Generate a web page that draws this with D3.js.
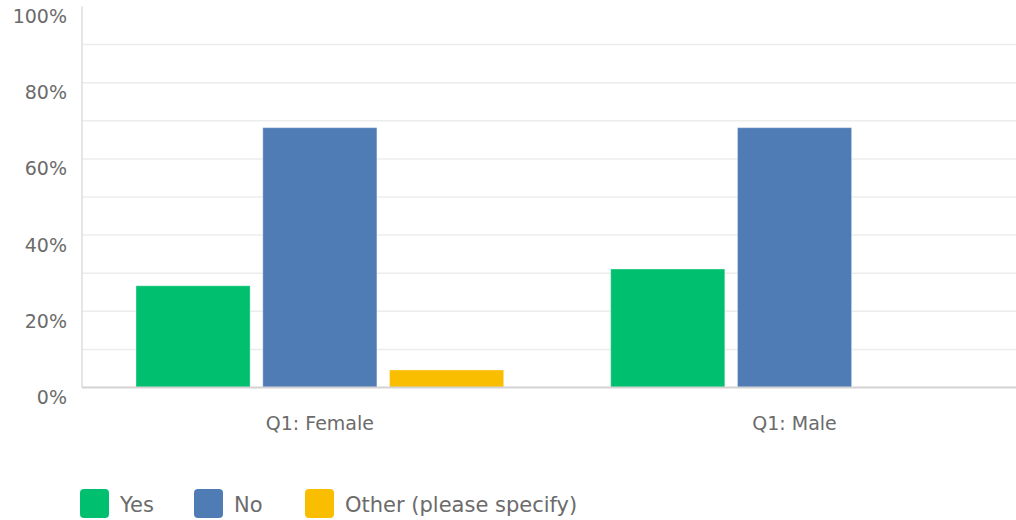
<!DOCTYPE html>
<html><head><meta charset="utf-8">
<script src="https://cdn.jsdelivr.net/npm/d3@7"></script>
<style>
html,body{margin:0;padding:0;background:#fff;}
svg{display:block;}
text{font-family:"DejaVu Sans",sans-serif;fill:#6b6b6b;}
</style></head>
<body><svg id="c" width="1016" height="520"></svg>
<script>
const categories = ["Q1: Female", "Q1: Male"];
const seriesNames = ["Yes", "No", "Other (please specify)"];
const yesValues = [26.7, 31.1];
const noValues = [68.2, 68.2];
const otherValues = [4.6, 0];
const yTickValues = [0, 20, 40, 60, 80, 100];
const gridValues = [10, 20, 30, 40, 50, 60, 70, 80, 90];
const seriesColors = ["#00BF6F", "#507CB6", "#F9BE00"];

const seriesValues = [yesValues, noValues, otherValues];
const data = categories.map((c, i) => ({cat: c, vals: seriesNames.map((s, j) => ({s, v: seriesValues[j][i], color: seriesColors[j]}))}));

const svg = d3.select("#c");
const y = d3.scaleLinear().domain([0, 100]).range([387.5, 6.5]);
const x0 = d3.scaleBand().domain(categories).range([82.5, 1031.9]).padding(0);
const x1 = d3.scaleBand().domain(seriesNames).range([53.5, x0.bandwidth() - 53.5]).paddingInner(0.1).paddingOuter(0);

// gridlines
svg.append("g").selectAll("line").data(gridValues).join("line")
  .attr("x1", 82).attr("x2", 1016)
  .attr("y1", d => y(d)).attr("y2", d => y(d))
  .attr("stroke", "#ececec").attr("stroke-width", 1.5);

// y axis line
svg.append("line").attr("x1", 82).attr("x2", 82).attr("y1", y(100)).attr("y2", y(0))
  .attr("stroke", "#dcdcdc").attr("stroke-width", 1.5);

// y tick labels
const yAxis = d3.axisLeft(y).tickValues(yTickValues).tickFormat(d => d + "%").tickSize(0).tickPadding(0);
const ya = svg.append("g").attr("transform", "translate(67,10)").call(yAxis);
ya.select(".domain").remove();
ya.selectAll("text").style("font-size", "19px").attr("fill", "#6b6b6b").style("font-family", "'DejaVu Sans',sans-serif");

// bars
const groups = svg.append("g").selectAll("g").data(data).join("g")
  .attr("transform", d => `translate(${x0(d.cat)},0)`);
groups.selectAll("rect").data(d => d.vals.filter(v => v.v > 0)).join("rect")
  .attr("x", d => x1(d.s)).attr("width", x1.bandwidth())
  .attr("y", d => y(d.v)).attr("height", d => y(0) - y(d.v))
  .attr("fill", d => d.color)
  .attr("stroke", "rgba(255,255,255,0.35)").attr("stroke-width", 1);

// baseline
svg.append("line").attr("x1", 82).attr("x2", 1016).attr("y1", y(0)).attr("y2", y(0))
  .attr("stroke", "#d3d3d3").attr("stroke-width", 2);

// x axis labels
const xAxis = d3.axisBottom(x0).tickSize(0).tickPadding(0);
const xa = svg.append("g").attr("transform", "translate(0,416)").call(xAxis);
xa.select(".domain").remove();
xa.selectAll("text").style("font-size", "19px").attr("fill", "#6b6b6b").style("font-family", "'DejaVu Sans',sans-serif");

// legend
const legendX = [80, 194, 305];
const lg = svg.append("g").selectAll("g").data(seriesNames).join("g")
  .attr("transform", (d, i) => `translate(${legendX[i]},489)`);
lg.append("rect").attr("width", 29).attr("height", 29).attr("rx", 4)
  .attr("fill", (d, i) => seriesColors[i]);
lg.append("text").attr("x", 40).attr("y", 23).style("font-size", "21px").text(d => d);
</script></body></html>
